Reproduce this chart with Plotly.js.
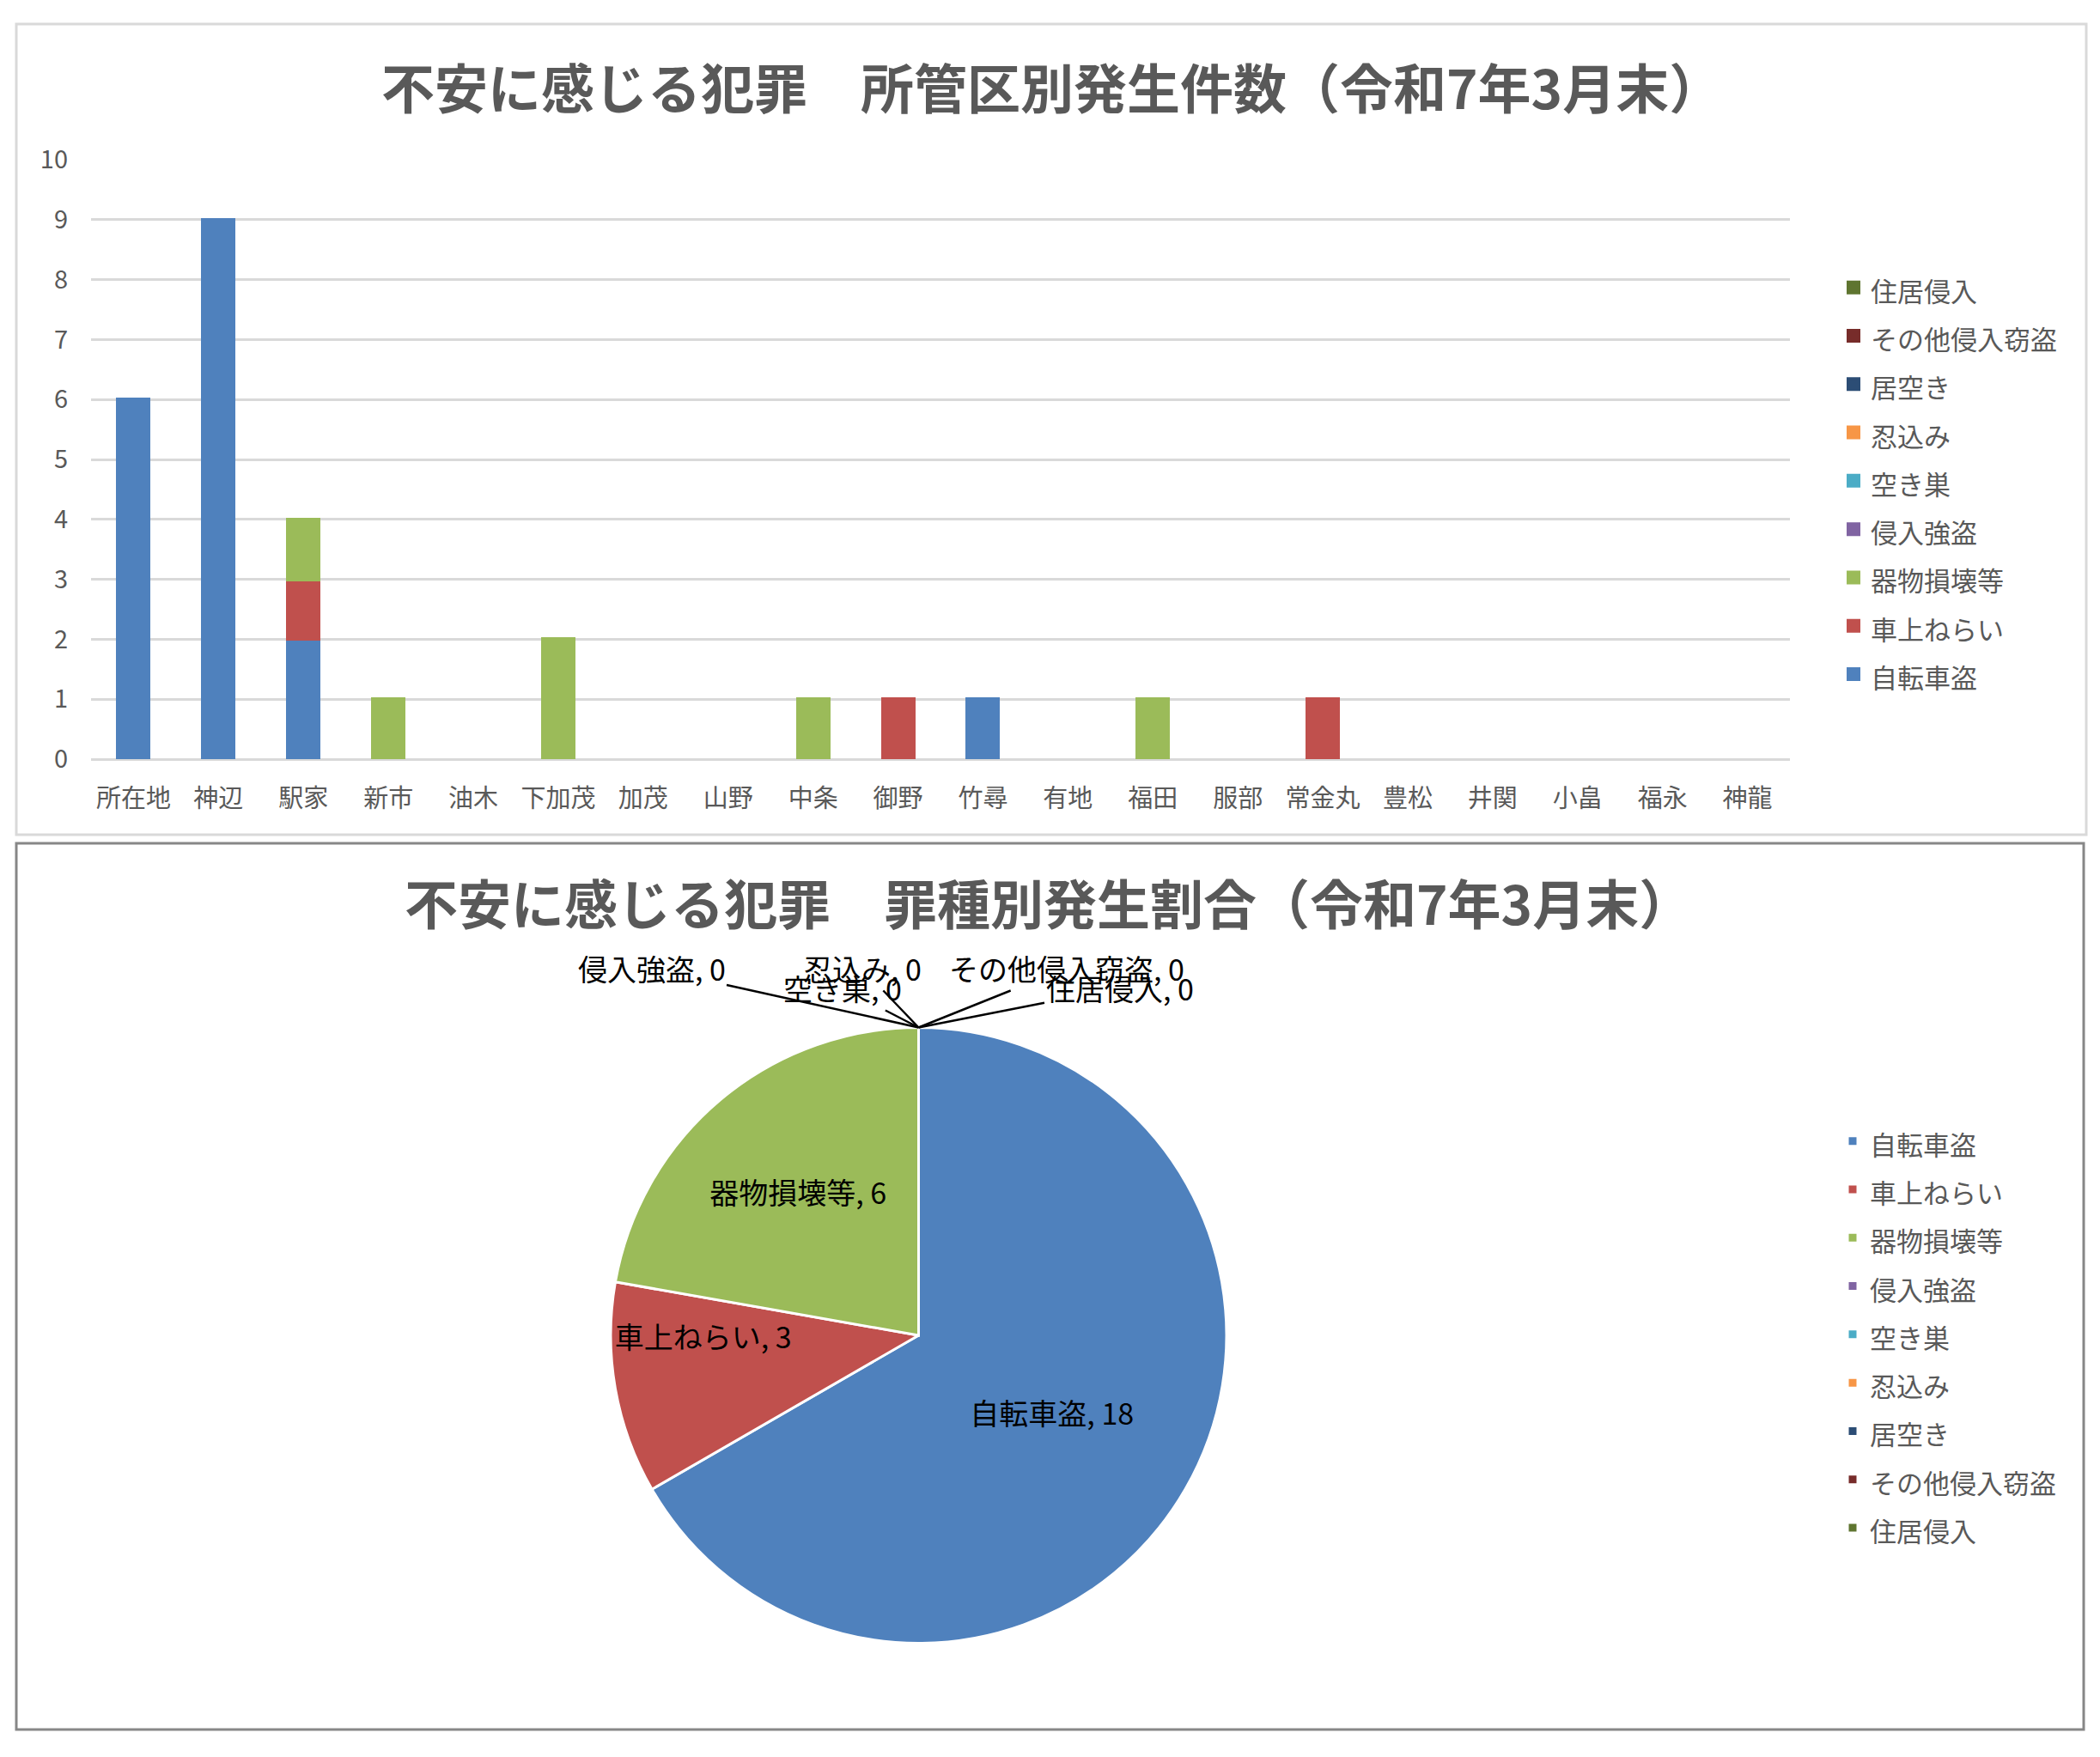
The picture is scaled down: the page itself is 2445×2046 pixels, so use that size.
<!DOCTYPE html>
<html>
<head>
<meta charset="utf-8">
<script src="https://cdn.plot.ly/plotly-3.0.1.min.js"></script>
<style>body{margin:0;background:#fff}</style>
</head>
<body>
<div id="chartDiv" style="width:2445px;height:2046px"></div>
<script>
// 所管区 (x categories)
var areas = ['所在地', '神辺', '駅家', '新市', '油木', '下加茂', '加茂', '山野', '中条', '御野',
             '竹尋', '有地', '福田', '服部', '常金丸', '豊松', '井関', '小畠', '福永', '神龍'];

var crimeTypes = ['自転車盗', '車上ねらい', '器物損壊等', '侵入強盗', '空き巣', '忍込み', '居空き', 'その他侵入窃盗', '住居侵入'];
var crimeColors = ['#4F81BD', '#C0504D', '#9BBB59', '#8064A2', '#4BACC6', '#F79646', '#2C4D75', '#772C2A', '#5F7530'];

// 件数 per 所管区
var bicycle    = [6, 9, 2, 0, 0, 0, 0, 0, 0, 0, 1, 0, 0, 0, 0, 0, 0, 0, 0, 0];
var carTarget  = [0, 0, 1, 0, 0, 0, 0, 0, 0, 1, 0, 0, 0, 0, 1, 0, 0, 0, 0, 0];
var vandalism  = [0, 0, 1, 1, 0, 2, 0, 0, 1, 0, 0, 0, 1, 0, 0, 0, 0, 0, 0, 0];
var robbery    = [0, 0, 0, 0, 0, 0, 0, 0, 0, 0, 0, 0, 0, 0, 0, 0, 0, 0, 0, 0];
var akisu      = [0, 0, 0, 0, 0, 0, 0, 0, 0, 0, 0, 0, 0, 0, 0, 0, 0, 0, 0, 0];
var shinobikomi= [0, 0, 0, 0, 0, 0, 0, 0, 0, 0, 0, 0, 0, 0, 0, 0, 0, 0, 0, 0];
var iaki       = [0, 0, 0, 0, 0, 0, 0, 0, 0, 0, 0, 0, 0, 0, 0, 0, 0, 0, 0, 0];
var otherEntry = [0, 0, 0, 0, 0, 0, 0, 0, 0, 0, 0, 0, 0, 0, 0, 0, 0, 0, 0, 0];
var trespass   = [0, 0, 0, 0, 0, 0, 0, 0, 0, 0, 0, 0, 0, 0, 0, 0, 0, 0, 0, 0];

// 罪種別合計
var pieValues = [18, 3, 6, 0, 0, 0, 0, 0, 0];

var W = 2445, H = 2046;
var FONT = '"Noto Sans CJK JP", "Noto Sans", sans-serif';
var GREY = '#595959';

// legend text is drawn at 31px, the legend font itself is bigger so the rows get Excel's spacing
function legendLabel(s) {
    return '<span style="font-size:31px">' + s + '</span>';
}

var barSeries = [bicycle, carTarget, vandalism, robbery, akisu, shinobikomi, iaki, otherEntry, trespass];
var data = [];
for (var i = 0; i < barSeries.length; i++) {
    data.push({
        type: 'bar',
        x: areas,
        // empty cells instead of 0 so no outline is drawn at the baseline
        y: barSeries[i].map(function (v) { return v === 0 ? null : v; }),
        name: legendLabel(crimeTypes[i]),
        legend: 'legend',
        // outline in the same colour -> bigger legend squares like Excel
        marker: {color: crimeColors[i], line: {width: 4, color: crimeColors[i]}},
        hoverinfo: 'x+y'
    });
}

// pie geometry (px)
var pieCx = 1069.5, pieCy = 1555, pieR = 358.5;
var pieDomX = [(pieCx - pieR) / W, (pieCx + pieR) / W];
var pieDomY = [1 - (pieCy + pieR) / H, 1 - (pieCy - pieR) / H];

data.push({
    type: 'pie',
    labels: crimeTypes.map(legendLabel),
    values: pieValues,
    sort: false,
    direction: 'clockwise',
    rotation: 0,
    marker: {colors: crimeColors, line: {color: '#ffffff', width: 3}},
    text: crimeTypes,
    texttemplate: '%{text}, %{value}',
    textposition: 'inside',
    insidetextorientation: 'horizontal',
    textfont: {size: 34, color: '#000000', family: FONT},
    domain: {x: pieDomX, y: pieDomY},
    legend: 'legend2',
    hoverinfo: 'value+percent'
});

// leader label offsets (px from pie top) for the zero slices
var zeroLabelOffsets = {
    '侵入強盗': [-311, -69],
    '空き巣': [-89, -46],
    '忍込み': [-66, -69],
    'その他侵入窃盗': [172, -69],
    '住居侵入': [234, -46]
};

var annotations = [
    {text: '<b>不安に感じる犯罪　所管区別発生件数（令和7年3月末）</b>', xref: 'paper', yref: 'paper',
     x: 1224 / W, y: 1 - 100 / H, xanchor: 'center', yanchor: 'middle', showarrow: false,
     font: {size: 62, color: GREY, family: FONT}},
    {text: '<b>不安に感じる犯罪　罪種別発生割合（令和7年3月末）</b>', xref: 'paper', yref: 'paper',
     x: 1220 / W, y: 1 - 1050 / H, xanchor: 'center', yanchor: 'middle', showarrow: false,
     font: {size: 62, color: GREY, family: FONT}}
];
for (var k = 0; k < crimeTypes.length; k++) {
    var off = zeroLabelOffsets[crimeTypes[k]];
    if (pieValues[k] !== 0 || !off) continue;
    annotations.push({
        text: crimeTypes[k] + ', ' + pieValues[k],
        xref: 'paper', yref: 'paper',
        x: (pieDomX[0] + pieDomX[1]) / 2, y: pieDomY[1],
        ax: off[0], ay: off[1],
        showarrow: true, arrowhead: 0, arrowwidth: 2.5, arrowcolor: '#000000', standoff: 0,
        font: {size: 34, color: '#000000', family: FONT}
    });
}

var layout = {
    width: W, height: H,
    margin: {l: 0, r: 0, t: 0, b: 0},
    paper_bgcolor: '#ffffff', plot_bgcolor: '#ffffff',
    font: {family: FONT, color: GREY},
    barmode: 'stack',
    bargap: 0.636,
    showlegend: true,
    xaxis: {
        domain: [106 / W, 2084 / W], anchor: 'y',
        tickangle: 0, ticks: '', showline: false, showgrid: false,
        tickfont: {size: 29, color: GREY}, ticklabelstandoff: 26
    },
    yaxis: {
        domain: [1 - 884 / H, 1 - 186 / H], anchor: 'x',
        range: [0, 10], dtick: 1, ticks: '', showline: false,
        gridcolor: '#D9D9D9', gridwidth: 3,
        zeroline: true, zerolinecolor: '#D9D9D9', zerolinewidth: 3,
        tickfont: {size: 29, color: GREY}, ticklabelstandoff: 26
    },
    legend: {
        x: 2138 / W, y: 1 - 560 / H, xanchor: 'left', yanchor: 'middle',
        traceorder: 'reversed',
        font: {size: 41, color: GREY, family: FONT}, bgcolor: 'rgba(0,0,0,0)'
    },
    legend2: {
        x: 2137 / W, y: 1 - 1554 / H, xanchor: 'left', yanchor: 'middle',
        font: {size: 41, color: GREY, family: FONT}, bgcolor: 'rgba(0,0,0,0)'
    },
    annotations: annotations,
    shapes: [
        {type: 'rect', xref: 'paper', yref: 'paper', x0: 19 / W, x1: 2429 / W, y0: 1 - 972 / H, y1: 1 - 28 / H,
         line: {color: '#D9D9D9', width: 3}},
        {type: 'rect', xref: 'paper', yref: 'paper', x0: 19 / W, x1: 2426 / W, y0: 1 - 2014 / H, y1: 1 - 982 / H,
         line: {color: '#878787', width: 3}}
    ]
};

Plotly.newPlot('chartDiv', data, layout, {staticPlot: true});
</script>
</body>
</html>
